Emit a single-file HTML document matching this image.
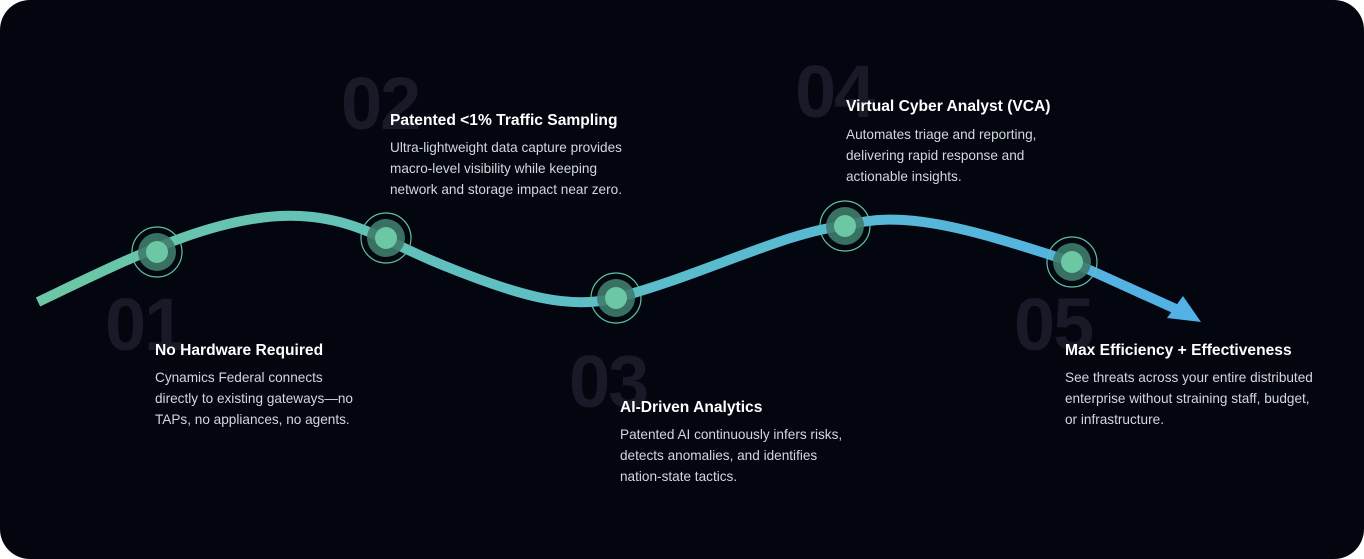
<!DOCTYPE html>
<html><head><style>
html,body{margin:0;padding:0;background:#fff;}
.card{position:absolute;left:0;top:0;width:1364px;height:559px;background:#03050f;border-radius:30px;overflow:hidden;font-family:"Liberation Sans",sans-serif;}
.num{position:absolute;font-size:74px;font-weight:bold;color:#181b27;line-height:1;letter-spacing:-2px;}
.t{position:absolute;color:#fff;font-weight:bold;font-size:15.6px;line-height:20px;}
.b{position:absolute;color:#d4d7de;font-size:13.6px;line-height:21px;}
svg{position:absolute;left:0;top:0;}
</style></head><body>
<div class="card">
<div class="num" style="left:105px;top:288px">01</div>
<div class="num" style="left:341px;top:67px">02</div>
<div class="num" style="left:569px;top:345px">03</div>
<div class="num" style="left:795px;top:55px">04</div>
<div class="num" style="left:1014px;top:288px">05</div>
<svg width="1364" height="559">
<defs><linearGradient id="g" x1="38" y1="0" x2="1200" y2="0" gradientUnits="userSpaceOnUse">
<stop offset="0" stop-color="#6cc7a4"/><stop offset="0.5" stop-color="#5cbdc9"/><stop offset="1" stop-color="#52b1e6"/></linearGradient></defs>
<path d="M38,302 C130,258 220,212 300,216 C360,219 390,245 450,268 C520,296 570,310 616,298 C700,276 790,230 845,226 C900,210 960,225 1072,262 L1178,310" fill="none" stroke="url(#g)" stroke-width="10"/>
<polygon points="1201,322 1167,318 1183,296" fill="#52b1e6"/>
<g stroke="#5fc3a2" stroke-width="1.2">
<circle cx="157" cy="252" r="25" fill="none"/><circle cx="386" cy="238" r="25" fill="none"/><circle cx="616" cy="298" r="25" fill="none"/><circle cx="845" cy="226" r="25" fill="none"/><circle cx="1072" cy="262" r="25" fill="none"/></g>
<g fill="#3e7c6b" opacity="0.9">
<circle cx="157" cy="252" r="19"/><circle cx="386" cy="238" r="19"/><circle cx="616" cy="298" r="19"/><circle cx="845" cy="226" r="19"/><circle cx="1072" cy="262" r="19"/></g>
<g fill="#6cc7a4">
<circle cx="157" cy="252" r="11"/><circle cx="386" cy="238" r="11"/><circle cx="616" cy="298" r="11"/><circle cx="845" cy="226" r="11"/><circle cx="1072" cy="262" r="11"/></g>
</svg>
<div class="t" style="left:155px;top:341px">No Hardware Required</div>
<div class="b" style="left:155px;top:367px">Cynamics Federal connects<br>directly to existing gateways—no<br>TAPs, no appliances, no agents.</div>
<div class="t" style="left:390px;top:111px">Patented &lt;1% Traffic Sampling</div>
<div class="b" style="left:390px;top:137px">Ultra-lightweight data capture provides<br>macro-level visibility while keeping<br>network and storage impact near zero.</div>
<div class="t" style="left:620px;top:398px">AI-Driven Analytics</div>
<div class="b" style="left:620px;top:424px">Patented AI continuously infers risks,<br>detects anomalies, and identifies<br>nation-state tactics.</div>
<div class="t" style="left:846px;top:97px">Virtual Cyber Analyst (VCA)</div>
<div class="b" style="left:846px;top:124px">Automates triage and reporting,<br>delivering rapid response and<br>actionable insights.</div>
<div class="t" style="left:1065px;top:341px">Max Efficiency + Effectiveness</div>
<div class="b" style="left:1065px;top:367px">See threats across your entire distributed<br>enterprise without straining staff, budget,<br>or infrastructure.</div>
</div>
</body></html>
